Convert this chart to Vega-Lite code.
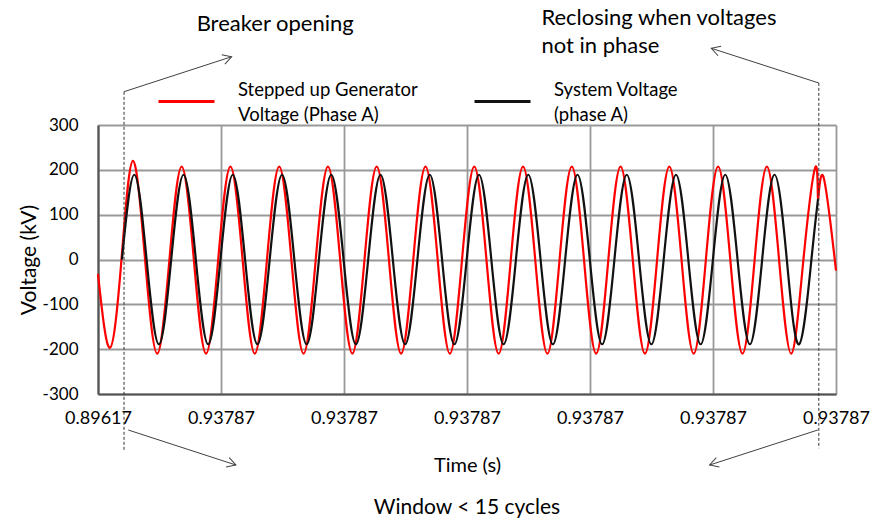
{
"$schema": "https://vega.github.io/schema/vega-lite/v6.json",
"width": 738,
"height": 269,
"autosize": {"type": "none"},
"padding": {"left": 98, "top": 125, "right": 45, "bottom": 128},
"background": "white",
"config": {"view": {"stroke": null}, "font": "Lato"},
"title": {"text": "Window < 15 cycles", "orient": "bottom", "anchor": "middle", "font": "Lato", "fontSize": 21, "fontWeight": "normal", "color": "#000000", "offset": 22},
"datasets": {
"gen": [
{"t":0.89617,"v":-32},{"t":0.900236,"v":-197},{"t":0.904132,"v":0},
{"t":0.907994,"v":220},{"t":0.912127,"v":0},{"t":0.916261,"v":-210},{"t":0.920394,"v":0},
{"t":0.924527,"v":207},{"t":0.928661,"v":0},{"t":0.932794,"v":-210},{"t":0.936927,"v":0},
{"t":0.941061,"v":207},{"t":0.945194,"v":0},{"t":0.949328,"v":-210},{"t":0.953461,"v":0},
{"t":0.957594,"v":207},{"t":0.961728,"v":0},{"t":0.965861,"v":-210},{"t":0.969994,"v":0},
{"t":0.974128,"v":207},{"t":0.978261,"v":0},{"t":0.982394,"v":-210},{"t":0.986528,"v":0},
{"t":0.990661,"v":207},{"t":0.994794,"v":0},{"t":0.998928,"v":-210},{"t":1.003061,"v":0},
{"t":1.007194,"v":207},{"t":1.011328,"v":0},{"t":1.015461,"v":-210},{"t":1.019594,"v":0},
{"t":1.023728,"v":207},{"t":1.027861,"v":0},{"t":1.031995,"v":-210},{"t":1.036128,"v":0},
{"t":1.040261,"v":207},{"t":1.044395,"v":0},{"t":1.048528,"v":-210},{"t":1.052661,"v":0},
{"t":1.056795,"v":207},{"t":1.060928,"v":0},{"t":1.065061,"v":-210},{"t":1.069195,"v":0},
{"t":1.073328,"v":207},{"t":1.077461,"v":0},{"t":1.081595,"v":-210},{"t":1.085728,"v":0},
{"t":1.089861,"v":207},{"t":1.093995,"v":0},{"t":1.098128,"v":-210},{"t":1.102261,"v":0},
{"t":1.106395,"v":207},{"t":1.110528,"v":0},{"t":1.114661,"v":-210},{"t":1.118795,"v":0},
{"t":1.122928,"v":207},{"t":1.127061,"v":0},{"t":1.131195,"v":-210},{"t":1.135328,"v":0},
{"t":1.139461,"v":207},{"t":1.140275,"v":135},{"t":1.141969,"v":187},{"t":1.14637,"v":-25}
],
"sys": [
{"t":0.904294,"v":0},
{"t":0.908468,"v":189},{"t":0.912642,"v":0},{"t":0.916816,"v":-189},{"t":0.92099,"v":0},
{"t":0.925164,"v":189},{"t":0.929338,"v":0},{"t":0.933512,"v":-189},{"t":0.937686,"v":0},
{"t":0.94186,"v":189},{"t":0.946034,"v":0},{"t":0.950208,"v":-189},{"t":0.954382,"v":0},
{"t":0.958556,"v":189},{"t":0.96273,"v":0},{"t":0.966904,"v":-189},{"t":0.971078,"v":0},
{"t":0.975252,"v":189},{"t":0.979426,"v":0},{"t":0.9836,"v":-189},{"t":0.987774,"v":0},
{"t":0.991948,"v":189},{"t":0.996122,"v":0},{"t":1.000296,"v":-189},{"t":1.00447,"v":0},
{"t":1.008644,"v":189},{"t":1.012818,"v":0},{"t":1.016992,"v":-189},{"t":1.021166,"v":0},
{"t":1.02534,"v":189},{"t":1.029514,"v":0},{"t":1.033688,"v":-189},{"t":1.037862,"v":0},
{"t":1.042036,"v":189},{"t":1.04621,"v":0},{"t":1.050384,"v":-189},{"t":1.054558,"v":0},
{"t":1.058732,"v":189},{"t":1.062906,"v":0},{"t":1.06708,"v":-189},{"t":1.071254,"v":0},
{"t":1.075428,"v":189},{"t":1.079602,"v":0},{"t":1.083776,"v":-189},{"t":1.08795,"v":0},
{"t":1.092124,"v":189},{"t":1.096298,"v":0},{"t":1.100472,"v":-189},{"t":1.104646,"v":0},
{"t":1.10882,"v":189},{"t":1.112994,"v":0},{"t":1.117168,"v":-189},{"t":1.121342,"v":0},
{"t":1.125516,"v":189},{"t":1.12969,"v":0},{"t":1.133864,"v":-189},{"t":1.138038,"v":0},
{"t":1.140275,"v":135}
],
"events": [
{"t":0.905,"v":374,"v2":-425},
{"t":1.140546,"v":394,"v2":-421}
],
"arrows": [
{"name":"breaker","t":0.905,"v":374.3,"t2":0.941468,"v2":452.3},
{"name":"reclose","t":1.140546,"v":393.7,"t2":1.104092,"v2":471.1},
{"name":"windowStart","t":0.906436,"v":-380.3,"t2":0.942924,"v2":-458.4},
{"name":"windowEnd","t":1.140208,"v":-380.3,"t2":1.103516,"v2":-458.4}
],
"notes": [
{"text":"Breaker opening","t":0.92961,"v":510},
{"text":"Reclosing when voltages\nnot in phase","t":1.046496,"v":523}
]
},
"layer": [
{
"data": {"name": "gen"},
"mark": {"type": "line", "interpolate": "natural", "strokeWidth": 2.2},
"encoding": {
"x": {"field": "t", "type": "quantitative", "scale": {"domain": [0.89617, 1.14637], "nice": false, "zero": false},
"axis": {"title": "Time (s)", "values": [0.89617, 0.93787, 0.97957, 1.02127, 1.06297, 1.10467, 1.14637],
"labelExpr": "datum.value < 0.9 ? '0.89617' : '0.93787'", "grid": true, "gridColor": "#999999", "gridWidth": 1.8,
"domainColor": "#555555", "domainWidth": 2.2, "ticks": false, "labelFont": "Lato", "labelFontSize": 18, "labelColor": "#000000",
"labelPadding": 15, "labelFlush": false, "labelOverlap": false, "titleFont": "Lato", "titleFontSize": 20, "titleFontWeight": "normal",
"titleColor": "#000000", "titlePadding": 28}},
"y": {"field": "v", "type": "quantitative", "scale": {"domain": [-300, 300], "nice": false},
"axis": {"title": "Voltage (kV)", "values": [-300, -200, -100, 0, 100, 200, 300], "labelExpr": "'' + datum.value",
"grid": true, "gridColor": "#999999", "gridWidth": 1.8, "domainColor": "#555555", "domainWidth": 2.2, "ticks": false,
"labelFont": "Lato", "labelFontSize": 17, "labelColor": "#000000", "labelPadding": 20, "titleFont": "Lato", "titleFontSize": 21,
"titleFontWeight": "normal", "titleColor": "#000000", "titlePadding": 3}},
"color": {"datum": "Stepped up Generator Voltage (Phase A)", "type": "nominal",
"scale": {"domain": ["Stepped up Generator Voltage (Phase A)", "System Voltage (phase A)"], "range": ["#ff0000", "#111111"]},
"legend": {"title": null, "orient": "none", "legendX": 59, "legendY": -53, "direction": "horizontal", "symbolType": "stroke",
"symbolSize": 3136, "symbolStrokeWidth": 3, "labelFont": "Lato", "labelFontSize": 18.5, "labelColor": "#000000",
"labelOffset": 22, "columnPadding": 50, "padding": 0, "labelLimit": 400,
"labelExpr": "datum.label == 'System Voltage (phase A)' ? ['System Voltage', '(phase A)'] : ['Stepped up Generator', 'Voltage (Phase A)']",
"encode": {"labels": {"update": {"lineHeight": {"value": 25}, "dy": {"value": -12}}}}}}
}
},
{
"data": {"name": "sys"},
"mark": {"type": "line", "interpolate": "natural", "strokeWidth": 2.2},
"encoding": {
"x": {"field": "t", "type": "quantitative", "scale": {"domain": [0.89617, 1.14637], "nice": false, "zero": false}},
"y": {"field": "v", "type": "quantitative", "scale": {"domain": [-300, 300], "nice": false}},
"color": {"datum": "System Voltage (phase A)", "type": "nominal"}
}
},
{
"data": {"name": "events"},
"mark": {"type": "rule", "strokeDash": [3, 2], "color": "#333333", "strokeWidth": 1},
"encoding": {
"x": {"field": "t", "type": "quantitative", "scale": {"domain": [0.89617, 1.14637], "nice": false, "zero": false}},
"y": {"field": "v", "type": "quantitative", "scale": {"domain": [-300, 300], "nice": false}},
"y2": {"field": "v2"}
}
},
{
"data": {"name": "arrows"},
"mark": {"type": "rule", "color": "#404040", "strokeWidth": 1},
"encoding": {
"x": {"field": "t", "type": "quantitative", "scale": {"domain": [0.89617, 1.14637], "nice": false, "zero": false}},
"y": {"field": "v", "type": "quantitative", "scale": {"domain": [-300, 300], "nice": false}},
"x2": {"field": "t2"},
"y2": {"field": "v2"}
}
},
{
"data": {"name": "arrows"},
"transform": [{"filter": "datum.name == 'breaker'"}],
"mark": {"type": "point", "shape": "M-0.5,0.87L0,0L0.5,0.87", "filled": false, "color": "#404040", "strokeWidth": 1, "size": 400, "opacity": 1, "angle": 72},
"encoding": {
"x": {"field": "t2", "type": "quantitative", "scale": {"domain": [0.89617, 1.14637], "nice": false, "zero": false}},
"y": {"field": "v2", "type": "quantitative", "scale": {"domain": [-300, 300], "nice": false}}
}
},
{
"data": {"name": "arrows"},
"transform": [{"filter": "datum.name == 'reclose'"}],
"mark": {"type": "point", "shape": "M-0.5,0.87L0,0L0.5,0.87", "filled": false, "color": "#404040", "strokeWidth": 1, "size": 400, "opacity": 1, "angle": 288},
"encoding": {
"x": {"field": "t2", "type": "quantitative", "scale": {"domain": [0.89617, 1.14637], "nice": false, "zero": false}},
"y": {"field": "v2", "type": "quantitative", "scale": {"domain": [-300, 300], "nice": false}}
}
},
{
"data": {"name": "arrows"},
"transform": [{"filter": "datum.name == 'windowStart'"}],
"mark": {"type": "point", "shape": "M-0.5,0.87L0,0L0.5,0.87", "filled": false, "color": "#404040", "strokeWidth": 1, "size": 400, "opacity": 1, "angle": 108},
"encoding": {
"x": {"field": "t2", "type": "quantitative", "scale": {"domain": [0.89617, 1.14637], "nice": false, "zero": false}},
"y": {"field": "v2", "type": "quantitative", "scale": {"domain": [-300, 300], "nice": false}}
}
},
{
"data": {"name": "arrows"},
"transform": [{"filter": "datum.name == 'windowEnd'"}],
"mark": {"type": "point", "shape": "M-0.5,0.87L0,0L0.5,0.87", "filled": false, "color": "#404040", "strokeWidth": 1, "size": 400, "opacity": 1, "angle": 252},
"encoding": {
"x": {"field": "t2", "type": "quantitative", "scale": {"domain": [0.89617, 1.14637], "nice": false, "zero": false}},
"y": {"field": "v2", "type": "quantitative", "scale": {"domain": [-300, 300], "nice": false}}
}
},
{
"data": {"name": "notes"},
"mark": {"type": "text", "align": "left", "baseline": "alphabetic", "font": "Lato", "fontSize": 22, "lineBreak": "\n", "lineHeight": 28, "color": "#000000"},
"encoding": {
"x": {"field": "t", "type": "quantitative", "scale": {"domain": [0.89617, 1.14637], "nice": false, "zero": false}},
"y": {"field": "v", "type": "quantitative", "scale": {"domain": [-300, 300], "nice": false}},
"text": {"field": "text"}
}
}
]
}
